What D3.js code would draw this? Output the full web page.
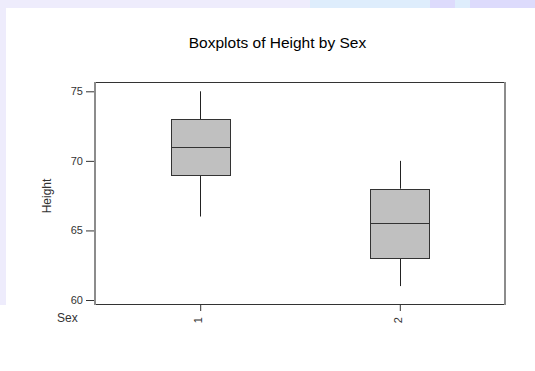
<!DOCTYPE html>
<html>
<head>
<meta charset="utf-8">
<script src="https://cdn.jsdelivr.net/npm/d3@7"></script>
<style>
  html, body { margin: 0; padding: 0; background: #ffffff; }
  svg { display: block; }
  text { font-family: "Liberation Sans", Arial, sans-serif; }
</style>
</head>
<body>
<script>
// Height summary statistics by sex
const categories = ["1", "2"];
const whiskerLow  = [66, 61];
const q1          = [69, 63];
const median      = [71, 65.5];
const q3          = [73, 68];
const whiskerHigh = [75, 70];
const yTicks = [60, 65, 70, 75];

const W = 535, H = 371;
const frame = { left: 95, right: 505, top: 82, bottom: 304 };

const svg = d3.select("body").append("svg")
  .attr("width", W).attr("height", H);

// page backdrop: pale border strips along the top and left
svg.append("rect").attr("x", 0).attr("y", 0).attr("width", W).attr("height", H).attr("fill", "#ffffff");
svg.append("rect").attr("x", 0).attr("y", 0).attr("width", W).attr("height", 8).attr("fill", "#EEECFC");
svg.append("rect").attr("x", 0).attr("y", 0).attr("width", 6).attr("height", 305).attr("fill", "#EEECFC");
const strip = [
  { x: 310, w: 120, c: "#DEEDFC" },
  { x: 430, w: 25, c: "#DDDBFC" },
  { x: 455, w: 15, c: "#DEEDFC" },
  { x: 470, w: 65, c: "#DDDBFC" }
];
svg.selectAll("rect.strip").data(strip).enter().append("rect")
  .attr("class", "strip")
  .attr("x", d => d.x).attr("y", 0).attr("width", d => d.w).attr("height", 8)
  .attr("fill", d => d.c);

const y = d3.scaleLinear().domain([60, 75]).range([300, 91.3]);
const x = d3.scalePoint().domain(categories).range([frame.left, frame.right]).padding(0.527);

const boxes = categories.map((c, i) => ({
  cat: c, lo: whiskerLow[i], q1: q1[i], med: median[i], q3: q3[i], hi: whiskerHigh[i]
}));
const boxW = 59;

// title
svg.append("text")
  .attr("x", 277.5).attr("y", 48)
  .attr("text-anchor", "middle")
  .attr("font-size", 15.5)
  .attr("fill", "#000")
  .text("Boxplots of Height by Sex");

// y axis
const yAxis = svg.append("g")
  .attr("transform", `translate(${frame.left},0)`)
  .call(d3.axisLeft(y).tickValues(yTicks).tickSize(9).tickPadding(3).tickFormat(d3.format("d")));
yAxis.select(".domain").remove();
yAxis.selectAll(".tick line").attr("stroke", "#333");
yAxis.selectAll(".tick text").attr("font-size", 11).attr("fill", "#333")
  .attr("font-family", "'Liberation Sans', Arial, sans-serif");

// x axis
const xAxis = svg.append("g")
  .attr("transform", `translate(0,${frame.bottom})`)
  .call(d3.axisBottom(x).tickSize(7).tickFormat(d => d));
xAxis.select(".domain").remove();
xAxis.selectAll(".tick line").attr("stroke", "#333");
xAxis.selectAll(".tick text")
  .attr("font-size", 11).attr("fill", "#333")
  .attr("font-family", "'Liberation Sans', Arial, sans-serif")
  .attr("text-anchor", "end")
  .attr("x", 0).attr("y", 0).attr("dy", "0.35em")
  .attr("transform", "translate(-2.5,13) rotate(-90)");

// axis titles
svg.append("text")
  .attr("transform", "translate(51,196) rotate(-90)")
  .attr("text-anchor", "middle")
  .attr("font-size", 12).attr("fill", "#333")
  .text("Height");
svg.append("text")
  .attr("x", 57).attr("y", 322)
  .attr("font-size", 12).attr("fill", "#333")
  .text("Sex");

// plot frame
svg.append("line").attr("x1", frame.left).attr("x2", frame.right).attr("y1", frame.top + 0.5).attr("y2", frame.top + 0.5)
  .attr("stroke", "#333");
svg.append("line").attr("x1", frame.left).attr("x2", frame.right).attr("y1", frame.bottom + 0.5).attr("y2", frame.bottom + 0.5)
  .attr("stroke", "#333");
svg.append("line").attr("x1", frame.left).attr("x2", frame.left).attr("y1", frame.top).attr("y2", frame.bottom + 1)
  .attr("stroke", "#8c8c8c").attr("stroke-width", 2);
svg.append("line").attr("x1", frame.right).attr("x2", frame.right).attr("y1", frame.top).attr("y2", frame.bottom + 1)
  .attr("stroke", "#8c8c8c").attr("stroke-width", 2);

// boxes and whiskers
const g = svg.append("g");
const bx = g.selectAll("g.box").data(boxes).enter().append("g").attr("class", "box");
bx.append("line")
  .attr("x1", d => Math.round(x(d.cat)) + 0.5).attr("x2", d => Math.round(x(d.cat)) + 0.5)
  .attr("y1", d => y(d.hi)).attr("y2", d => y(d.q3))
  .attr("stroke", "#222");
bx.append("line")
  .attr("x1", d => Math.round(x(d.cat)) + 0.5).attr("x2", d => Math.round(x(d.cat)) + 0.5)
  .attr("y1", d => y(d.q1)).attr("y2", d => y(d.lo))
  .attr("stroke", "#222");
bx.append("rect")
  .attr("x", d => Math.round(x(d.cat) - boxW / 2) + 0.5)
  .attr("y", d => Math.round(y(d.q3)) + 0.5)
  .attr("width", boxW)
  .attr("height", d => Math.round(y(d.q1)) - Math.round(y(d.q3)))
  .attr("fill", "#C0C0C0").attr("stroke", "#333");
bx.append("line")
  .attr("x1", d => Math.round(x(d.cat) - boxW / 2) + 0.5)
  .attr("x2", d => Math.round(x(d.cat) - boxW / 2) + 0.5 + boxW)
  .attr("y1", d => Math.round(y(d.med)) + 0.5).attr("y2", d => Math.round(y(d.med)) + 0.5)
  .attr("stroke", "#333");
</script>
</body>
</html>
